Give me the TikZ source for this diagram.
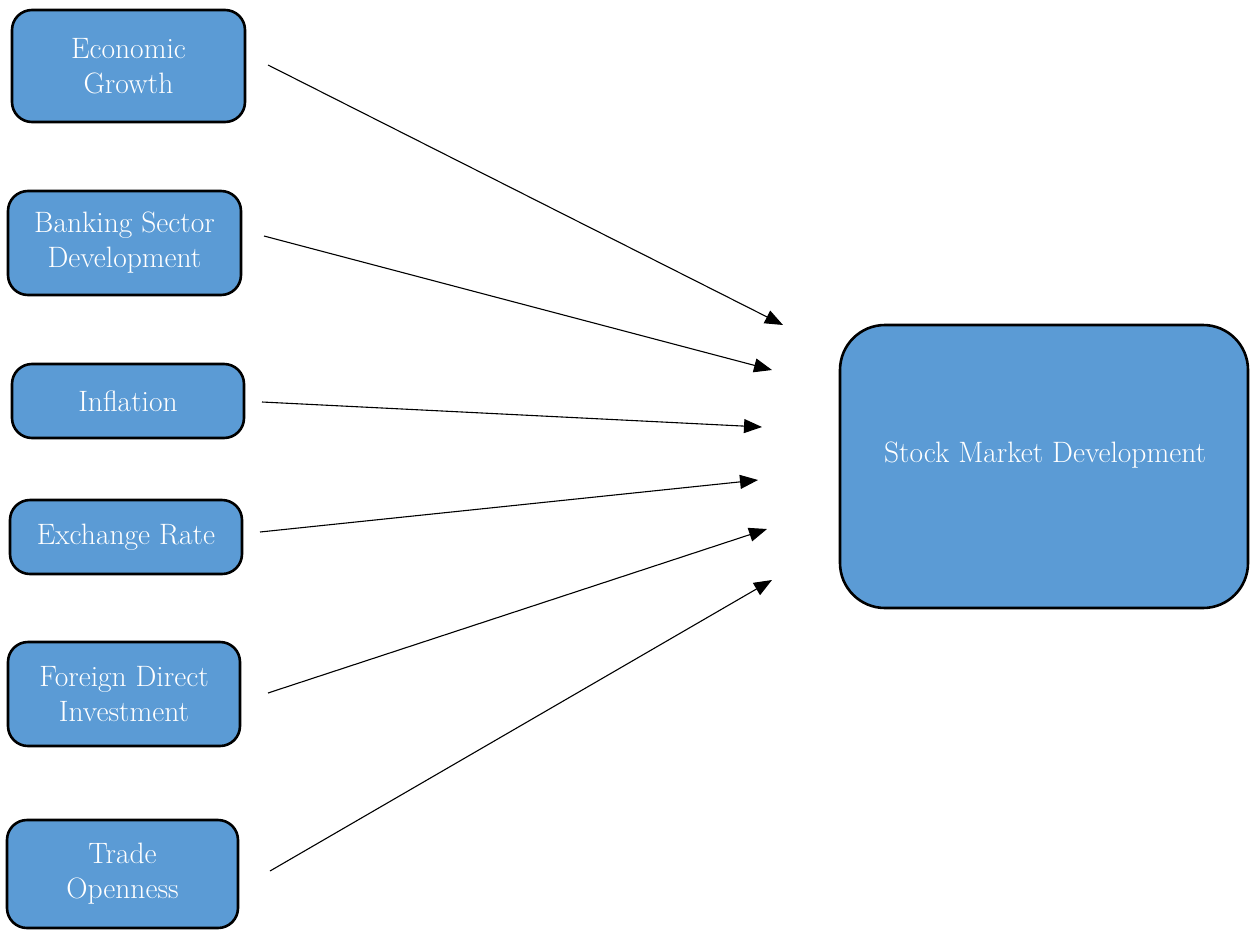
\documentclass[tikz,border=0pt]{standalone}
\usetikzlibrary{arrows.meta}
\definecolor{boxblue}{HTML}{5B9BD5}
\begin{document}
\begin{tikzpicture}[x=1pt,y=-1pt,
  factor/.style={draw=black, line width=2.6pt, fill=boxblue, rounded corners=20pt,
    text=white, align=center, font=\fontsize{29.5}{35}\selectfont, inner sep=0pt},
  target/.style={draw=black, line width=2.6pt, fill=boxblue, rounded corners=45pt},
  link/.style={line width=1.1pt, -{Triangle[length=18pt,width=14pt]}}]
\useasboundingbox (0,0) rectangle (1250,929);
% explanatory factors
\node[factor, minimum width=233pt, minimum height=112pt] (eg)  at (128.5,66)  {Economic\\Growth};
\node[factor, minimum width=233pt, minimum height=104pt] (bsd) at (124.5,243) {Banking Sector\\Development};
\node[factor, minimum width=232pt, minimum height=74pt]  (inf) at (128,401)   {Inflation};
\node[factor, minimum width=232pt, minimum height=74pt]  (er)  at (126,537)   {Exchange Rate};
\node[factor, minimum width=232pt, minimum height=104pt] (fdi) at (124,694)   {Foreign Direct\\Investment};
\node[factor, minimum width=231pt, minimum height=108pt] (to)  at (122.5,874) {Trade\\Openness};
% dependent variable
\node[target, minimum width=408pt, minimum height=283pt] (smd) at (1044,466.5) {};
\node[text=white, font=\fontsize{29.5}{35}\selectfont] (smdtext) at (1045,455) {Stock Market Development};
% arrow ends
\coordinate (s1) at (268,65);  \coordinate (e1) at (783,325);
\coordinate (s2) at (264,236); \coordinate (e2) at (772,370);
\coordinate (s3) at (262,402); \coordinate (e3) at (762,427);
\coordinate (s4) at (260,532); \coordinate (e4) at (758,480);
\coordinate (s5) at (268,693); \coordinate (e5) at (767,529);
\coordinate (s6) at (270,871); \coordinate (e6) at (772,580);
\draw[link] (s1) -- (e1);
\draw[link] (s2) -- (e2);
\draw[link] (s3) -- (e3);
\draw[link] (s4) -- (e4);
\draw[link] (s5) -- (e5);
\draw[link] (s6) -- (e6);
\end{tikzpicture}
\end{document}
